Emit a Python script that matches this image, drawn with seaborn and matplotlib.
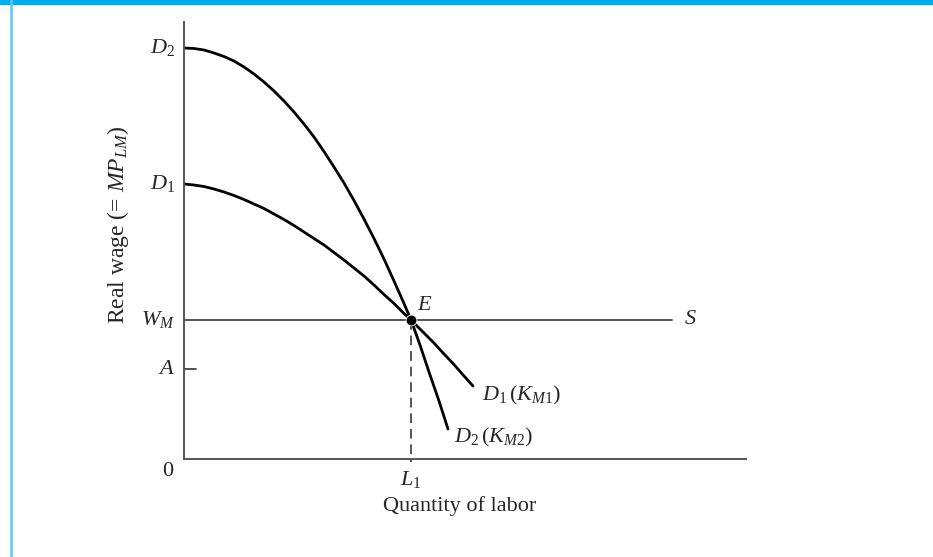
import pandas as pd
import seaborn as sns
import matplotlib.pyplot as plt
from matplotlib.lines import Line2D
from matplotlib.patches import Rectangle

# curve points (axis units = pixels from the origin)
d1_x = [0, 10, 20, 30, 40, 50, 60, 70, 80, 90, 100, 110, 120, 130, 140, 150, 160,
        170, 180, 190, 200, 210, 220, 227, 240, 250, 260, 270, 280, 289]
d1_y = [275, 274, 272.5, 270, 267, 263.5, 259.5, 255, 250.5, 245, 239.5, 233.5, 227,
        220.5, 214, 206.5, 199, 191, 183, 174, 164.5, 155.5, 145.5, 139, 126, 116, 105,
        94.5, 83, 73]
d2_x = [0, 10, 20, 30, 40, 50, 60, 70, 80, 90, 100, 110, 120, 130, 140, 150, 160,
        170, 180, 190, 200, 210, 220, 227, 236, 245, 255, 264]
d2_y = [411, 410.5, 409, 406, 402.5, 398, 392, 385, 377, 368, 358, 347, 335, 322,
        307.5, 292, 276, 258.5, 240, 220.5, 200, 178, 155.5, 139, 114, 87, 58, 30]

wage_m = 139
level_a = 90
labor_1 = 227
supply_end = 488

y_ticks = [411, 275, wage_m, level_a]
y_tick_labels = ["$D_2$", "$D_1$", "$W_M$", "$A$"]

sns.set_style("white")
plt.rcParams["font.family"] = ["Liberation Serif", "DejaVu Serif"]
plt.rcParams["mathtext.fontset"] = "custom"
plt.rcParams["mathtext.rm"] = "Liberation Serif"
plt.rcParams["mathtext.it"] = "Liberation Serif:italic"

fig = plt.figure(figsize=(9.33, 5.57), dpi=100)
ax = fig.add_axes([184 / 933, 98 / 557, 562 / 933, 437 / 557])

curves = pd.DataFrame({
    "x": d1_x + d2_x,
    "y": d1_y + d2_y,
    "curve": ["D1"] * len(d1_x) + ["D2"] * len(d2_x),
})
sns.lineplot(data=curves, x="x", y="y", units="curve", estimator=None, sort=False,
             color="black", linewidth=2.0, ax=ax, legend=False)

# supply line, dashed drop line, A tick, equilibrium point
ax.plot([0, supply_end], [wage_m, wage_m], color="#555555", linewidth=1.4)
ax.plot([labor_1, labor_1], [wage_m, -3], color="#555555", linewidth=1.4,
        linestyle=(0, (5, 3)), clip_on=False)
ax.plot([0, 12], [level_a, level_a], color="#333333", linewidth=1.2)
sns.scatterplot(x=[labor_1], y=[wage_m], color="black", s=60, ax=ax, zorder=5)

ax.set_xlim(0, 562)
ax.set_ylim(0, 437)
ax.set_xticks([])
ax.set_yticks([])
ax.set_xlabel("")
ax.set_ylabel("")
for side in ["top", "right"]:
    ax.spines[side].set_visible(False)
for side in ["left", "bottom"]:
    ax.spines[side].set_color("#555555")
    ax.spines[side].set_linewidth(1.4)

fs = 16
for val, lab in zip(y_ticks, y_tick_labels):
    ax.text(-9, val, lab, ha="right", va="center", fontsize=fs)
ax.text(-16, -12, "0", ha="center", va="center", fontsize=fs)
ax.text(labor_1, -20, "$L_1$", ha="center", va="center", fontsize=fs)
ax.text(276, -47, "Quantity of labor", ha="center", va="center", fontsize=16)
ax.text(-66, 234, "Real wage (= $MP_{LM}$)", ha="center", va="center",
        rotation=90, fontsize=17)
ax.text(labor_1 + 6, wage_m + 15, "$E$", ha="left", va="center", fontsize=fs)
ax.text(supply_end + 12, wage_m, "$S$", ha="left", va="center", fontsize=fs)
ax.text(298, 64, "$D_1\\,(K_{M1})$", ha="left", va="center", fontsize=fs)
ax.text(270, 22, "$D_2\\,(K_{M2})$", ha="left", va="center", fontsize=fs)

# page frame: cyan bar on top, thin cyan rule on the left
fig.patches.append(Rectangle((0, 1 - 5 / 557), 1, 5 / 557, transform=fig.transFigure,
                             facecolor="#00AEEF", edgecolor="none"))
fig.lines.append(Line2D([10.5 / 933, 10.5 / 933], [0, 1], transform=fig.transFigure,
                        color="#5BC8F0", linewidth=1.8))

fig.savefig("out.png", dpi=100)
